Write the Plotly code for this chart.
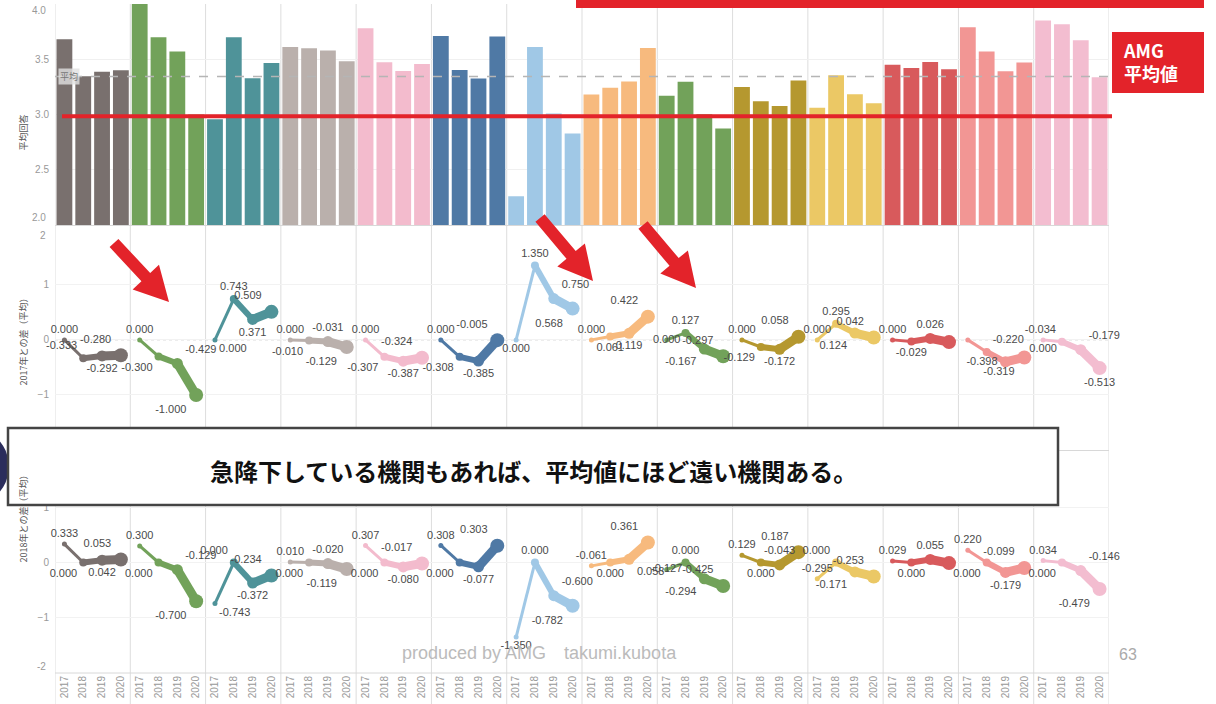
import numpy as np
import plotly.graph_objects as go
from plotly.subplots import make_subplots

# ---------------- data ----------------
years = ["2017", "2018", "2019", "2020"]
institutions = [f"機関{i}" for i in range(1, 15)]

mean_scores = [
    [3.68, 3.347, 3.388, 3.400],
    [4.00, 3.700, 3.571, 3.000],
    [2.957, 3.700, 3.328, 3.466],
    [3.61, 3.600, 3.579, 3.481],
    [3.78, 3.473, 3.393, 3.456],
    [3.71, 3.402, 3.325, 3.705],
    [2.26, 3.610, 3.010, 2.828],
    [3.18, 3.241, 3.299, 3.602],
    [3.17, 3.297, 3.003, 2.873],
    [3.25, 3.121, 3.078, 3.308],
    [3.06, 3.355, 3.184, 3.102],
    [3.45, 3.421, 3.476, 3.410],
    [3.79, 3.570, 3.392, 3.471],
    [3.85, 3.816, 3.671, 3.337],
]

diff_2017 = [
    [0.0, -0.333, -0.292, -0.280],
    [0.0, -0.300, -0.429, -1.000],
    [0.0, 0.743, 0.371, 0.509],
    [0.0, -0.010, -0.031, -0.129],
    [0.0, -0.307, -0.387, -0.324],
    [0.0, -0.308, -0.385, -0.005],
    [0.0, 1.350, 0.750, 0.568],
    [0.0, 0.061, 0.119, 0.422],
    [0.0, 0.127, -0.167, -0.297],
    [0.0, -0.129, -0.172, 0.058],
    [0.0, 0.295, 0.124, 0.042],
    [0.0, -0.029, 0.026, -0.040],
    [0.0, -0.220, -0.398, -0.319],
    [0.0, -0.034, -0.179, -0.513],
]

diff_2018 = [
    [0.333, 0.0, 0.042, 0.053],
    [0.300, 0.0, -0.129, -0.700],
    [-0.743, 0.0, -0.372, -0.234],
    [0.010, 0.0, -0.020, -0.119],
    [0.307, 0.0, -0.080, -0.017],
    [0.308, 0.0, -0.077, 0.303],
    [-1.350, 0.0, -0.600, -0.782],
    [-0.061, 0.0, 0.058, 0.361],
    [-0.127, 0.0, -0.294, -0.425],
    [0.129, 0.0, -0.043, 0.187],
    [-0.295, 0.0, -0.171, -0.253],
    [0.029, 0.0, 0.055, -0.011],
    [0.220, 0.0, -0.179, -0.099],
    [0.034, 0.0, -0.146, -0.479],
]

overall_mean = 3.345
amg_mean = 2.985

# ---------------- styles ----------------
colors = ["#79706E", "#72A25A", "#4F9399", "#BAB0AC", "#F3BBCD", "#4F79A5",
          "#A0C8E6", "#F7BA7E", "#72A25A", "#B5982F", "#EBC865", "#D85A5C",
          "#F29694", "#F3BDD0"]

pos_map = {"t": "top center", "b": "bottom center", "tl": "top left", "tr": "top right",
           "bl": "bottom left", "br": "bottom right", "m": "middle center",
           "ml": "middle left", "n": "top center"}

pos_2017 = [
    ["t", "tl", "b", "tl"], ["t", "bl", "tr", "bl"], ["br", "t", "b", "tl"],
    ["t", "bl", "t", "bl"], ["t", "bl", "b", "tl"], ["t", "bl", "b", "tl"],
    ["b", "t", "tr", "bl"], ["t", "b", "b", "tl"], ["m", "t", "bl", "tl"],
    ["t", "bl", "b", "tl"], ["t", "t", "bl", "tl"], ["t", "b", "t", "n"],
    ["n", "tr", "ml", "bl"], ["b", "tl", "tr", "b"],
]
pos_2018 = [
    ["t", "bl", "b", "tl"], ["t", "bl", "tr", "bl"], ["br", "tl", "b", "tl"],
    ["t", "bl", "t", "bl"], ["t", "bl", "b", "tl"], ["t", "bl", "b", "tl"],
    ["b", "t", "tr", "bl"], ["t", "b", "br", "tl"], ["m", "t", "bl", "tl"],
    ["t", "b", "t", "tl"], ["t", "tl", "bl", "tl"], ["t", "b", "t", "n"],
    ["t", "bl", "b", "tl"], ["t", "bl", "tr", "bl"],
]

seg_widths = [3, 6, 9]
marker_sizes = [5, 8, 11, 14]

W, H = 1216, 704
ML, MR, MT, MB = 55, 107, 4, 31
PW, PH = W - ML - MR, H - MT - MB


def px_x(p):
    return (p - ML) / PW


def px_y(p):
    return (H - MB - p) / PH


fig = make_subplots(rows=3, cols=1, shared_xaxes=True, vertical_spacing=0.01)

n_years = len(years)
n_groups = len(institutions)

# bars
xs, ys, cs = [], [], []
for g in range(n_groups):
    for k in range(n_years):
        xs.append(g * n_years + k)
        ys.append(mean_scores[g][k])
        cs.append(colors[g])
fig.add_trace(go.Bar(x=xs, y=ys, marker=dict(color=cs, line=dict(width=0)), width=0.84,
                     hoverinfo="skip", showlegend=False), row=1, col=1)


def add_lines(data, positions, row):
    for g in range(n_groups):
        x0 = g * n_years
        gx = [x0 + k for k in range(n_years)]
        for k in range(n_years - 1):
            fig.add_trace(go.Scatter(x=gx[k:k + 2], y=data[g][k:k + 2], mode="lines",
                                     line=dict(color=colors[g], width=seg_widths[k]),
                                     hoverinfo="skip", showlegend=False), row=row, col=1)
        texts = [("" if positions[g][k] == "n" else f"{data[g][k]:.3f}") for k in range(n_years)]
        fig.add_trace(go.Scatter(x=gx, y=data[g], mode="markers+text",
                                 marker=dict(color=colors[g], size=marker_sizes, opacity=1,
                                             line=dict(width=0)),
                                 text=texts,
                                 textposition=[pos_map[p] for p in positions[g]],
                                 textfont=dict(family="Liberation Sans", size=11, color="#4a4a4a"),
                                 cliponaxis=False, hoverinfo="skip", showlegend=False),
                      row=row, col=1)


add_lines(diff_2017, pos_2017, 2)
add_lines(diff_2018, pos_2018, 3)

# axes
xr = [-0.5, n_groups * n_years - 0.5]
tick_font = dict(family="Liberation Sans", size=10, color="#999999")
for i in (1, 2, 3):
    fig.update_xaxes(range=xr, showgrid=False, zeroline=False, showline=False, row=i, col=1,
                     showticklabels=(i == 3), automargin=False)
fig.update_xaxes(tickmode="array", tickvals=list(range(n_groups * n_years)),
                 ticktext=years * n_groups, tickangle=-90, tickfont=tick_font, ticks="",
                 row=3, col=1)

fig.update_layout(
    yaxis=dict(domain=[px_y(225), 1.0], range=[2.0, 4.0], tickvals=[2.5, 3.0, 3.5],
               tickformat=".1f", gridcolor="#f0f0f0", zeroline=False, tickfont=tick_font,
               ticklabelstandoff=5, automargin=False),
    yaxis2=dict(domain=[px_y(450), px_y(227)], range=[-2.0, 2.05], tickvals=[-1, 0, 1],
                gridcolor="#f2f2f2", zeroline=False, tickfont=tick_font, ticklabelstandoff=5,
                automargin=False),
    yaxis3=dict(domain=[0.0, px_y(452)], range=[-2.0, 2.0], tickvals=[-1, 0, 1],
                gridcolor="#f2f2f2", zeroline=False, tickfont=tick_font, ticklabelstandoff=5,
                automargin=False),
)

shapes = []
# group separators
for g in range(n_groups + 1):
    xv = g * n_years - 0.5
    shapes.append(dict(type="line", xref="x", yref="paper", x0=xv, x1=xv, y0=-0.05, y1=1.0,
                       line=dict(color="#dddddd", width=1), layer="below"))
# panel bottom lines
for py in (225.5, 450.5, 673):
    shapes.append(dict(type="line", xref="paper", yref="paper", x0=0, x1=1,
                       y0=px_y(py), y1=px_y(py), line=dict(color="#d8d8d8", width=1), layer="below"))
# zero lines (dotted)
for yref in ("y2", "y3"):
    shapes.append(dict(type="line", xref="paper", yref=yref, x0=0, x1=1, y0=0, y1=0,
                       line=dict(color="#cfcfcf", width=1, dash="dot"), layer="below"))
# overall mean dashed
shapes.append(dict(type="line", xref="paper", yref="y", x0=0, x1=1, y0=overall_mean, y1=overall_mean,
                   line=dict(color="#b5b5b5", width=1.5, dash="dash"), layer="above"))
# AMG red line
shapes.append(dict(type="line", xref="paper", yref="y", x0=px_x(62), x1=px_x(1112),
                   y0=amg_mean, y1=amg_mean, line=dict(color="#E3232A", width=4), layer="above"))
# red top bar
shapes.append(dict(type="rect", xref="paper", yref="paper", x0=px_x(576), x1=px_x(1204),
                   y0=px_y(8), y1=px_y(-6), fillcolor="#E3232A", line=dict(width=0), layer="above"))
# red AMG box
shapes.append(dict(type="rect", xref="paper", yref="paper", x0=px_x(1112), x1=px_x(1204),
                   y0=px_y(93), y1=px_y(32), fillcolor="#E3232A", line=dict(width=0), layer="above"))


def arrow_path(tail, tip, shaft=12, head_w=36, head_len=34):
    t = np.array(tail, float)
    p = np.array(tip, float)
    d = p - t
    u = d / np.linalg.norm(d)
    n = np.array([-u[1], u[0]])
    b = p - u * head_len
    pts = [t + n * shaft / 2, b + n * shaft / 2, b + n * head_w / 2, p,
           b - n * head_w / 2, b - n * shaft / 2, t - n * shaft / 2]
    s = "M " + " L ".join(f"{px_x(q[0]):.5f},{px_y(q[1]):.5f}" for q in pts) + " Z"
    return s


for tail, tip in [((114, 243), (169, 302)), ((540, 218), (593, 281)), ((643, 225), (696, 288))]:
    shapes.append(dict(type="path", xref="paper", yref="paper", path=arrow_path(tail, tip),
                       fillcolor="#E3232A", line=dict(width=0), layer="above"))

# navy half circle at left
shapes.append(dict(type="circle", xref="paper", yref="paper", x0=px_x(-80), x1=px_x(9),
                   y0=px_y(508), y1=px_y(425), fillcolor="#2b2d5c", line=dict(width=0), layer="above"))
# message box
shapes.append(dict(type="rect", xref="paper", yref="paper", x0=px_x(8), x1=px_x(1058),
                   y0=px_y(505), y1=px_y(428), fillcolor="white",
                   line=dict(color="#444444", width=2.5), layer="above"))

edge_ticks = [("4.0", 10), ("2.0", 217), ("2", 235), ("-2", 666)]

annotations = [
    dict(text="急降下している機関もあれば、平均値にほど遠い機関ある。", xref="paper", yref="paper",
         x=px_x(533), y=px_y(470), yanchor="middle", showarrow=False,
         font=dict(family="Noto Sans CJK JP", size=24, color="#111111", weight="bold")),
    dict(text="AMG<br>平均値", xref="paper", yref="paper", x=px_x(1121), y=px_y(62),
         xanchor="left", yanchor="middle", align="left", showarrow=False,
         font=dict(family="Noto Sans CJK JP", size=18, color="white", weight="bold")),
    dict(text="平均", xref="paper", yref="paper", x=px_x(58), y=px_y(68), xanchor="left",
         showarrow=False, bgcolor="rgba(225,225,225,0.8)", borderpad=1,
         font=dict(family="Noto Sans CJK JP", size=9, color="#777777")),
    dict(text="平均回答", xref="paper", yref="paper", x=px_x(14), y=px_y(113), textangle=-90,
         showarrow=False, font=dict(family="Noto Sans CJK JP", size=9, color="#555555")),
    dict(text="2017年との差（平均）", xref="paper", yref="paper", x=px_x(14), y=px_y(340), textangle=-90,
         showarrow=False, font=dict(family="Noto Sans CJK JP", size=9, color="#555555")),
    dict(text="2018年との差（平均）", xref="paper", yref="paper", x=px_x(14), y=px_y(565), textangle=-90,
         showarrow=False, font=dict(family="Noto Sans CJK JP", size=9, color="#555555")),
    dict(text="produced by AMG　takumi.kubota", xref="paper", yref="paper", x=px_x(539), y=px_y(665),
         showarrow=False, font=dict(family="Liberation Sans", size=18, color="#bbbbbb")),
    dict(text="63", xref="paper", yref="paper", x=px_x(1139), y=px_y(665),
         showarrow=False, font=dict(family="Liberation Sans", size=16, color="#aaaaaa")),
]
for label, py in edge_ticks:
    annotations.append(dict(text=label, xref="paper", yref="paper", x=px_x(48), y=px_y(py),
                            xanchor="right", yanchor="middle", showarrow=False, font=tick_font))

fig.update_layout(
    width=W, height=H, margin=dict(l=ML, r=MR, t=MT, b=MB, autoexpand=False),
    paper_bgcolor="white", plot_bgcolor="white", showlegend=False, bargap=0.16,
    shapes=shapes, annotations=annotations,
    font=dict(family="Noto Sans CJK JP"),
)

fig.write_html("out.html", config={"displayModeBar": False},
               post_script="document.body.style.margin='0px';document.body.style.overflow='hidden';")
